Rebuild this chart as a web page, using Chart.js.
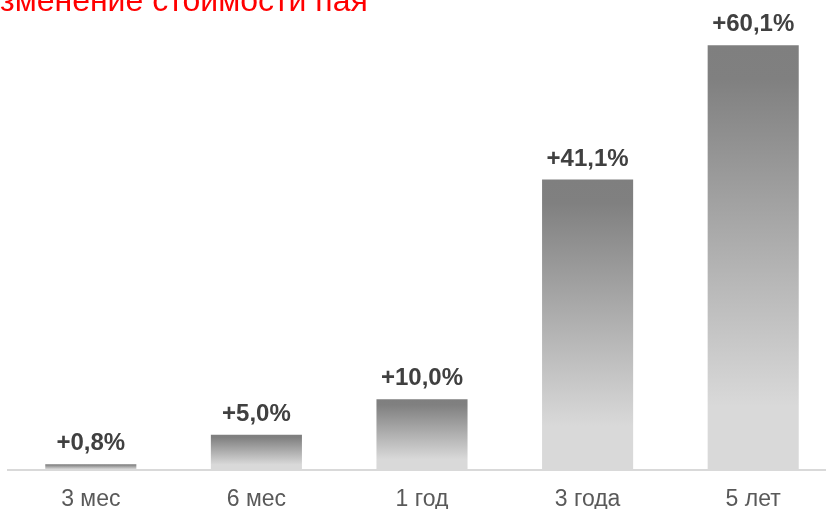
<!DOCTYPE html>
<html>
<head>
<meta charset="utf-8">
<script src="https://cdn.jsdelivr.net/npm/chart.js@4"></script>
<style>
  html, body { margin: 0; padding: 0; background: #fff; overflow: hidden; }
  #wrap { width: 836px; height: 509px; position: relative; }
</style>
</head>
<body>
<div id="wrap"><canvas id="c"></canvas></div>
<script>
const titleText = 'Изменение стоимости пая';
const categories = ['3 мес', '6 мес', '1 год', '3 года', '5 лет'];
const values = [0.8, 5.0, 10.0, 41.1, 60.1];
const valueLabels = ['+0,8%', '+5,0%', '+10,0%', '+41,1%', '+60,1%'];

const FONT = '"Liberation Sans", Arial, sans-serif';

function barGradient(ctx) {
  const chart = ctx.chart;
  if (!chart.chartArea || ctx.type !== 'data') return '#a6a6a6';
  const ys = chart.scales.y;
  const top = ys.getPixelForValue(ctx.raw);
  const bot = ys.getPixelForValue(0);
  if (!isFinite(top) || !isFinite(bot) || bot - top < 1) return '#808080';
  const g = chart.ctx.createLinearGradient(0, top, 0, bot);
  g.addColorStop(0, '#7f7f7f');
  g.addColorStop(0.08, '#808080');
  g.addColorStop(0.85, '#d9d9d9');
  g.addColorStop(1, '#d9d9d9');
  return g;
}

const labelsPlugin = {
  id: 'valueLabels',
  afterDatasetsDraw(chart) {
    const c = chart.ctx;
    const meta = chart.getDatasetMeta(0);
    c.save();
    c.font = 'bold 24px ' + FONT;
    c.fillStyle = '#404040';
    c.textAlign = 'center';
    c.textBaseline = 'alphabetic';
    meta.data.forEach((bar, i) => {
      c.fillText(valueLabels[i], bar.x, bar.y - 14);
    });
    c.restore();
  }
};

const titlePlugin = {
  id: 'clippedTitle',
  afterDraw(chart) {
    const c = chart.ctx;
    c.save();
    c.font = '32px ' + FONT;
    c.fillStyle = '#ff0000';
    c.textAlign = 'left';
    c.textBaseline = 'alphabetic';
    const w = c.measureText(titleText.charAt(0)).width;
    c.fillText(titleText, -w, 11);
    c.restore();
  }
};

new Chart(document.getElementById('c'), {
  type: 'bar',
  data: {
    labels: categories,
    datasets: [{
      data: values,
      backgroundColor: barGradient,
      borderWidth: 0,
      barPercentage: 0.55,
      categoryPercentage: 1.0
    }]
  },
  options: {
    responsive: true,
    maintainAspectRatio: false,
    devicePixelRatio: 1,
    animation: false,
    layout: { padding: { left: 8, right: 0, top: 0, bottom: 0 } },
    plugins: { legend: { display: false }, tooltip: { enabled: false }, title: { display: false } },
    scales: {
      x: {
        grid: { display: false, drawTicks: false },
        border: { display: true, color: '#d9d9d9', width: 2 },
        ticks: { color: '#595959', font: { family: FONT, size: 23 }, padding: 16, maxRotation: 0 },
        afterFit(s) { s.height = 39; }
      },
      y: {
        display: false,
        min: 0,
        max: 66.5
      }
    }
  },
  plugins: [labelsPlugin, titlePlugin]
});
</script>
</body>
</html>
